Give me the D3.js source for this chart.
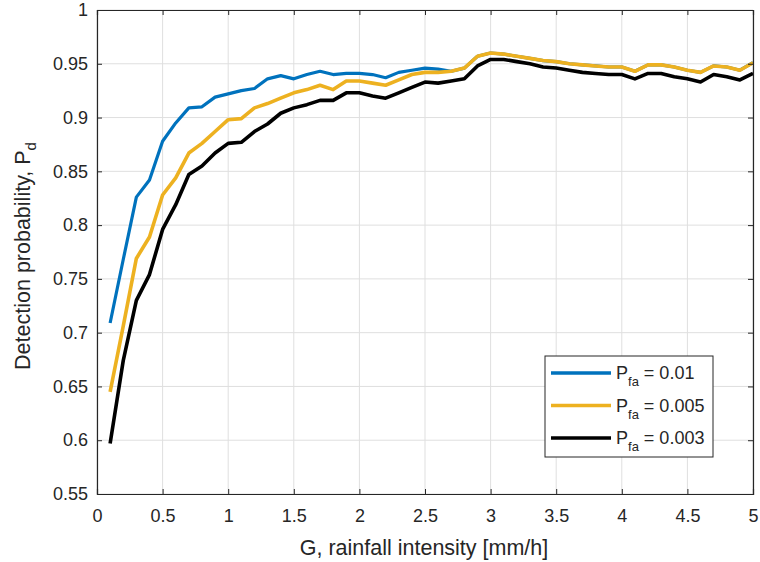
<!DOCTYPE html>
<html>
<head>
<meta charset="utf-8">
<script src="https://cdn.jsdelivr.net/npm/d3@7"></script>
<style>
  body { margin: 0; background: #fff; }
  svg text { font-family: "Liberation Sans", Arial, Helvetica, sans-serif; fill: #262626; }
</style>
</head>
<body>
<svg width="760" height="562"></svg>
<script>
// rainfall intensity G [mm/h], step 0.1
var intensita = [0.1,0.2,0.3,0.4,0.5,0.6,0.7,0.8,0.9,1.0,
  1.1,1.2,1.3,1.4,1.5,1.6,1.7,1.8,1.9,2.0,
  2.1,2.2,2.3,2.4,2.5,2.6,2.7,2.8,2.9,3.0,
  3.1,3.2,3.3,3.4,3.5,3.6,3.7,3.8,3.9,4.0,
  4.1,4.2,4.3,4.4,4.5,4.6,4.7,4.8,4.9,5.0];

// Pd per Pfa = 0.01 (dopo 2.7 coperta dalla curva gialla)
var pd_001 = [0.709,0.768,0.826,0.842,0.878,0.895,0.909,0.910,0.919,0.922,
  0.925,0.927,0.936,0.939,0.936,0.940,0.943,0.940,0.941,0.941,
  0.940,0.937,0.942,0.944,0.946,0.945,0.943,0.946,0.957,0.960,
  0.959,0.957,0.955,0.953,0.952,0.950,0.949,0.948,0.947,0.947,
  0.943,0.949,0.949,0.947,0.944,0.942,0.948,0.947,0.944,0.951];

// Pd per Pfa = 0.005
var pd_0005 = [0.645,0.706,0.769,0.789,0.828,0.844,0.867,0.876,0.887,0.898,
  0.899,0.909,0.913,0.918,0.923,0.926,0.930,0.926,0.934,0.934,
  0.932,0.930,0.935,0.940,0.942,0.942,0.943,0.946,0.957,0.960,
  0.959,0.957,0.955,0.953,0.952,0.950,0.949,0.948,0.947,0.947,
  0.943,0.949,0.949,0.947,0.944,0.942,0.948,0.947,0.944,0.951];

// Pd per Pfa = 0.003
var pd_0003 = [0.597,0.674,0.730,0.754,0.796,0.819,0.847,0.855,0.867,0.876,
  0.877,0.887,0.894,0.904,0.909,0.912,0.916,0.916,0.923,0.923,
  0.920,0.918,0.923,0.928,0.933,0.932,0.934,0.936,0.948,0.954,
  0.954,0.952,0.950,0.947,0.946,0.944,0.942,0.941,0.940,0.940,
  0.936,0.941,0.941,0.938,0.936,0.933,0.940,0.938,0.935,0.941];

var serie = [
  {sub: "fa", testo: " = 0.01", valori: pd_001, colore: "#0072BD", spessore: 3.2},
  {sub: "fa", testo: " = 0.005", valori: pd_0005, colore: "#EDB120", spessore: 3.6},
  {sub: "fa", testo: " = 0.003", valori: pd_0003, colore: "#000000", spessore: 3.6}
];

var tick_x = [0,0.5,1,1.5,2,2.5,3,3.5,4,4.5,5];
var tick_y = [0.55,0.6,0.65,0.7,0.75,0.8,0.85,0.9,0.95,1];

var svg = d3.select("svg"),
  sx = 97, dx = 753, sy = 10, gy = 494;

var x = d3.scaleLinear().domain([0, 5]).range([sx, dx]),
  y = d3.scaleLinear().domain([0.55, 1]).range([gy, sy]);

// griglia
var griglia = svg.append("g").attr("class", "griglia");
tick_x.forEach(function(t){
  griglia.append("line")
    .attr("x1", x(t)).attr("x2", x(t))
    .attr("y1", sy).attr("y2", gy)
    .attr("stroke", "#dfdfdf").attr("stroke-width", 1);
});
tick_y.forEach(function(t){
  griglia.append("line")
    .attr("x1", sx).attr("x2", dx)
    .attr("y1", y(t)).attr("y2", y(t))
    .attr("stroke", "#dfdfdf").attr("stroke-width", 1);
});

// curve
var linea = d3.line()
  .x(function(d, i){ return x(intensita[i]); })
  .y(function(d){ return y(d); });

var curve = svg.append("g").attr("class", "curve");
serie.forEach(function(s){
  curve.append("path")
    .attr("d", linea(s.valori))
    .attr("fill", "none")
    .attr("stroke", s.colore)
    .attr("stroke-width", s.spessore)
    .attr("stroke-linejoin", "round");
});

// assi (tick verso l'interno, anche sopra e a destra)
var assi = svg.append("g").attr("class", "assi");
assi.append("g").attr("transform", "translate(0," + gy + ")")
  .call(d3.axisBottom(x).tickValues(tick_x).tickSize(-5).tickPadding(15).tickFormat(d3.format("")));
assi.append("g").attr("transform", "translate(0," + sy + ")")
  .call(d3.axisTop(x).tickValues(tick_x).tickSize(-5).tickFormat(""));
assi.append("g").attr("transform", "translate(" + sx + ",0)")
  .call(d3.axisLeft(y).tickValues(tick_y).tickSize(-5).tickPadding(9).tickFormat(d3.format("")));
assi.append("g").attr("transform", "translate(" + dx + ",0)")
  .call(d3.axisRight(y).tickValues(tick_y).tickSize(-5).tickFormat(""));

assi.selectAll(".domain").attr("stroke", "#262626").attr("stroke-width", 1.2);
assi.selectAll(".tick line").attr("stroke", "#262626").attr("stroke-width", 1);
assi.selectAll(".tick text")
  .style("font-family", "'Liberation Sans', Arial, sans-serif")
  .attr("font-size", 18).attr("fill", "#262626");

// etichette assi
svg.append("text")
  .attr("x", (sx + dx) / 2 - 1).attr("y", 555)
  .attr("text-anchor", "middle")
  .attr("font-size", 21.5)
  .text("G, rainfall intensity [mm/h]");

var ety = svg.append("text")
  .attr("transform", "translate(30," + ((sy + gy) / 2 + 4) + ") rotate(-90)")
  .attr("text-anchor", "middle")
  .attr("font-size", 21.5);
ety.append("tspan").text("Detection probability, P");
ety.append("tspan").attr("font-size", 15).attr("dy", 6).text("d");

// legenda
var leg = svg.append("g").attr("class", "legenda");
leg.append("rect")
  .attr("x", 545).attr("y", 356)
  .attr("width", 168).attr("height", 101)
  .attr("fill", "#fff").attr("stroke", "#262626").attr("stroke-width", 1);

serie.forEach(function(s, i){
  var ry = 373 + i * 32.5;
  leg.append("line")
    .attr("x1", 551).attr("x2", 611)
    .attr("y1", ry).attr("y2", ry)
    .attr("stroke", s.colore).attr("stroke-width", 3.5);
  var t = leg.append("text")
    .attr("x", 616).attr("y", ry + 6)
    .attr("font-size", 18);
  t.append("tspan").text("P");
  t.append("tspan").attr("font-size", 13).attr("dy", 7).text(s.sub);
  t.append("tspan").attr("dy", -7).text(s.testo);
});
</script>
</body>
</html>
